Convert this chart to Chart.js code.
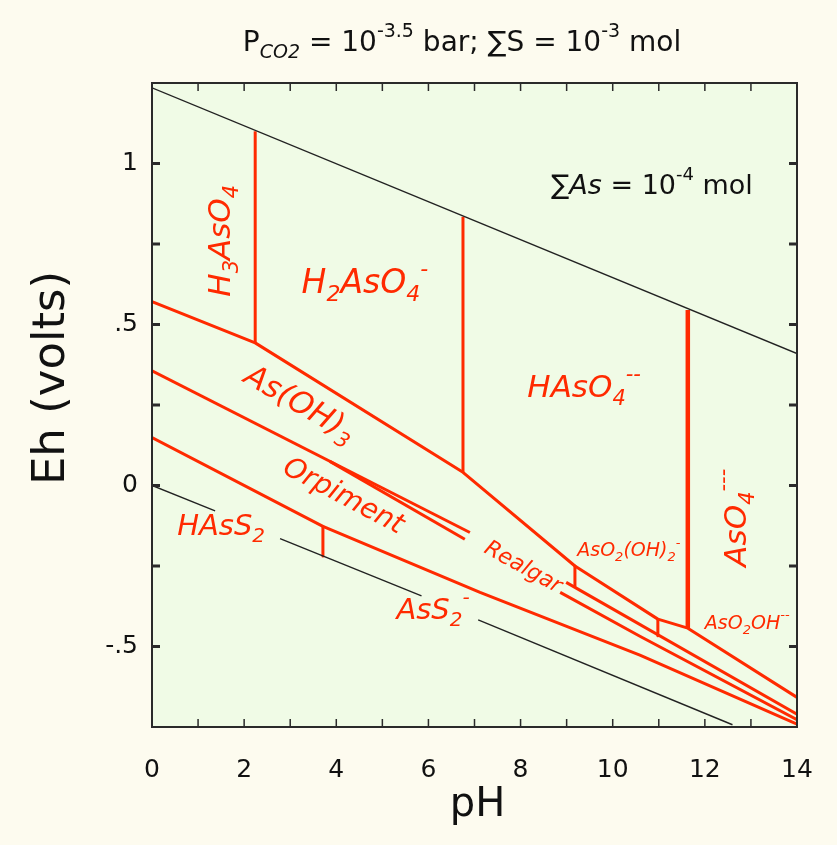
<!DOCTYPE html>
<html lang="en">
<head>
<meta charset="UTF-8">
<title>Eh-pH diagram: As-S-O-H</title>
<script src="https://cdn.jsdelivr.net/npm/chart.js"></script>
<style>
  html, body { margin: 0; padding: 0; background: #fdfbef; }
  .wrap { width: 837px; height: 845px; }
</style>
</head>
<body>
<div class="wrap"><canvas id="ehph" width="837" height="845"></canvas></div>
<script>
// ---- axis ticks ----
const phTickLabels = ['0', '2', '4', '6', '8', '10', '12', '14'];
const ehTickValues = [1, 0.5, 0, -0.5];
const ehTickLabels = ['1', '.5', '0', '-.5'];

// ---- water stability limits (black) ----
const o2LinePH = [0, 14];
const o2LineEh = [1.235, 0.41];
const h2Seg1PH = [0, 1.37];
const h2Seg1Eh = [0, -0.079];
const h2Seg2PH = [2.78, 5.85];
const h2Seg2Eh = [-0.165, -0.343];
const h2Seg3PH = [7.08, 12.6];
const h2Seg3Eh = [-0.417, -0.743];

// ---- As(V) / As(III) boundary ----
const redoxPH = [0, 2.24, 6.75, 9.18, 10.98, 11.63, 14];
const redoxEh = [0.571, 0.443, 0.041, -0.250, -0.415, -0.443, -0.658];

// ---- vertical acid/base boundaries: [pH, Eh bottom, Eh top] ----
const h3aso4Edge = [2.24, 0.443, 1.10];
const h2aso4Edge = [6.75, 0.041, 0.835];
const haso4Edge = [11.63, -0.443, 0.545];
const aso2oh2Edge = [9.18, -0.250, -0.313];
const aso2ohEdge = [10.98, -0.415, -0.467];
const hass2Edge = [3.71, -0.127, -0.219];

// ---- sulfide boundaries ----
const asOH3UpperPH = [0, 6.90];
const asOH3UpperEh = [0.356, -0.146];
const asOH3Upper2PH = [8.99, 14];
const asOH3Upper2Eh = [-0.301, -0.710];
const realgarPH = [3.86, 6.79];
const realgarEh = [0.075, -0.167];
const realgar2PH = [8.86, 10.59, 14];
const realgar2Eh = [-0.332, -0.468, -0.727];
const orpimentLowPH = [0, 3.71, 7.12, 10.59, 14];
const orpimentLowEh = [0.149, -0.127, -0.332, -0.527, -0.741];

const RED = '#ff2a00';
const LABEL_FONT = '"DejaVu Sans", "Liberation Sans", sans-serif';

function pts(ph, eh) {
  return ph.map((p, i) => ({ x: p, y: eh[i] }));
}
function vert(edge) {
  return [{ x: edge[0], y: edge[1] }, { x: edge[0], y: edge[2] }];
}
function line(data, color, width) {
  return { data: data, showLine: true, borderColor: color, borderWidth: width,
           pointRadius: 0, fill: false, tension: 0, borderJoinStyle: 'round' };
}

const datasets = [
  line(pts(o2LinePH, o2LineEh), '#222', 1.4),
  line(pts(h2Seg1PH, h2Seg1Eh), '#222', 1.4),
  line(pts(h2Seg2PH, h2Seg2Eh), '#222', 1.4),
  line(pts(h2Seg3PH, h2Seg3Eh), '#222', 1.4),
  line(pts(redoxPH, redoxEh), RED, 3),
  line(vert(h3aso4Edge), RED, 3),
  line(vert(h2aso4Edge), RED, 3),
  line(vert(haso4Edge), RED, 4.5),
  line(vert(aso2oh2Edge), RED, 3),
  line(vert(aso2ohEdge), RED, 3),
  line(vert(hass2Edge), RED, 3),
  line(pts(asOH3UpperPH, asOH3UpperEh), RED, 3),
  line(pts(asOH3Upper2PH, asOH3Upper2Eh), RED, 3),
  line(pts(realgarPH, realgarEh), RED, 3),
  line(pts(realgar2PH, realgar2Eh), RED, 3),
  line(pts(orpimentLowPH, orpimentLowEh), RED, 3)
];

// species labels, anchored in data coordinates
const speciesLabels = [
  { parts: [['H'], ['3', 'sub'], ['AsO'], ['4', 'sub']], ph: 1.52, eh: 0.76, rot: -90, size: 31 },
  { parts: [['H'], ['2', 'sub'], ['AsO'], ['4', 'sub'], ['-', 'sup']], ph: 4.62, eh: 0.625, rot: 0, size: 33 },
  { parts: [['HAsO'], ['4', 'sub'], ['--', 'sup']], ph: 9.38, eh: 0.30, rot: 0, size: 31 },
  { parts: [['AsO'], ['4', 'sub'], ['---', 'sup']], ph: 12.72, eh: -0.10, rot: -90, size: 31 },
  { parts: [['As(OH)'], ['3', 'sub']], ph: 3.2, eh: 0.25, rot: 30, size: 31 },
  { parts: [['Orpiment']], ph: 4.15, eh: -0.035, rot: 28, size: 28 },
  { parts: [['HAsS'], ['2', 'sub']], ph: 1.5, eh: -0.13, rot: 0, size: 29 },
  { parts: [['AsS'], ['2', 'sub'], ['-', 'sup']], ph: 6.1, eh: -0.39, rot: 0, size: 29 },
  { parts: [['Realgar']], ph: 8.05, eh: -0.255, rot: 29, size: 22 },
  { parts: [['AsO'], ['2', 'sub'], ['(OH)'], ['2', 'sub'], ['-', 'sup']], ph: 10.35, eh: -0.205, rot: 0, size: 19 },
  { parts: [['AsO'], ['2', 'sub'], ['OH'], ['--', 'sup']], ph: 12.92, eh: -0.43, rot: 0, size: 19 }
];

function drawRich(ctx, parts, x, y, size, rot, color, italic) {
  const fontFor = p => {
    const it = (p[2] !== undefined ? p[2] : italic) ? 'italic ' : '';
    const s = p[1] ? Math.round(size * 0.68) : size;
    return it + s + 'px ' + LABEL_FONT;
  };
  const widths = parts.map(p => { ctx.font = fontFor(p); return ctx.measureText(p[0]).width; });
  const total = widths.reduce((a, b) => a + b, 0);
  ctx.save();
  ctx.translate(x, y);
  ctx.rotate(rot * Math.PI / 180);
  ctx.fillStyle = color;
  ctx.textAlign = 'left';
  ctx.textBaseline = 'middle';
  let cx = -total / 2;
  parts.forEach((p, i) => {
    ctx.font = fontFor(p);
    const dy = p[1] === 'sub' ? size * 0.34 : (p[1] === 'sup' ? -size * 0.42 : 0);
    ctx.fillText(p[0], cx, dy);
    cx += widths[i];
  });
  ctx.restore();
}

const diagramPlugin = {
  id: 'diagram',
  beforeDraw(chart) {
    const { ctx, chartArea: a } = chart;
    ctx.save();
    ctx.fillStyle = '#fdfbef';
    ctx.fillRect(0, 0, chart.width, chart.height);
    ctx.fillStyle = '#f0fbe6';
    ctx.fillRect(a.left, a.top, a.right - a.left, a.bottom - a.top);
    ctx.restore();
  },
  afterDraw(chart) {
    const { ctx, chartArea: a, scales } = chart;
    const xs = scales.x, ys = scales.y;
    ctx.save();
    // frame
    ctx.strokeStyle = '#2a2a2a';
    ctx.lineWidth = 2;
    ctx.strokeRect(a.left, a.top, a.right - a.left, a.bottom - a.top);
    // inward ticks
    ctx.lineWidth = 1.5;
    for (let v = 1; v < 14; v++) {
      const px = xs.getPixelForValue(v);
      ctx.beginPath();
      ctx.moveTo(px, a.bottom); ctx.lineTo(px, a.bottom - 8);
      ctx.moveTo(px, a.top); ctx.lineTo(px, a.top + 8);
      ctx.stroke();
    }
    ctx.lineWidth = 3;
    for (let v = -0.5; v <= 1; v += 0.25) {
      const py = ys.getPixelForValue(v);
      ctx.beginPath();
      ctx.moveTo(a.left, py); ctx.lineTo(a.left + 8, py);
      ctx.moveTo(a.right, py); ctx.lineTo(a.right - 8, py);
      ctx.stroke();
    }
    ctx.restore();

    // species labels
    speciesLabels.forEach(l => {
      drawRich(ctx, l.parts, xs.getPixelForValue(l.ph), ys.getPixelForValue(l.eh),
               l.size, l.rot, RED, true);
    });

    // titles
    drawRich(ctx, [['P'], ['CO2', 'sub', true], [' = 10'], ['-3.5', 'sup'], [' bar; \u2211S = 10'], ['-3', 'sup'], [' mol']],
             462, 44, 28, 0, '#111', false);
    drawRich(ctx, [['\u2211'], ['As', undefined, true], [' = 10'], ['-4', 'sup'], [' mol']],
             652, 187, 27, 0, '#111', false);
    drawRich(ctx, [['pH']], (a.left + a.right) / 2 + 3, 806, 40, 0, '#111', false);
    drawRich(ctx, [['Eh (volts)']], 52, 378, 45, -90, '#111', false);
  }
};

const ctx = document.getElementById('ehph').getContext('2d');
new Chart(ctx, {
  type: 'scatter',
  data: { datasets: datasets },
  options: {
    responsive: false,
    animation: false,
    layout: { padding: { top: 83, right: 40, left: 0, bottom: 0 } },
    plugins: { legend: { display: false }, tooltip: { enabled: false } },
    scales: {
      x: {
        type: 'linear', min: 0, max: 14,
        grid: { display: false, drawTicks: false },
        border: { display: false },
        ticks: {
          stepSize: 1, autoSkip: false, maxRotation: 0, padding: 28, color: '#111',
          font: { family: LABEL_FONT, size: 25 },
          callback: v => (v % 2 === 0 ? phTickLabels[v / 2] : '')
        },
        afterFit: s => { s.height = 118; s.paddingLeft = 0; s.paddingRight = 0; }
      },
      y: {
        type: 'linear', min: -0.75, max: 1.25,
        grid: { display: false, drawTicks: false },
        border: { display: false },
        ticks: {
          stepSize: 0.25, autoSkip: false, padding: 14, color: '#111',
          font: { family: LABEL_FONT, size: 25 },
          callback: v => { const i = ehTickValues.indexOf(v); return i < 0 ? '' : ehTickLabels[i]; }
        },
        afterFit: s => { s.width = 152; s.paddingTop = 0; s.paddingBottom = 0; }
      }
    }
  },
  plugins: [diagramPlugin]
});
</script>
</body>
</html>
